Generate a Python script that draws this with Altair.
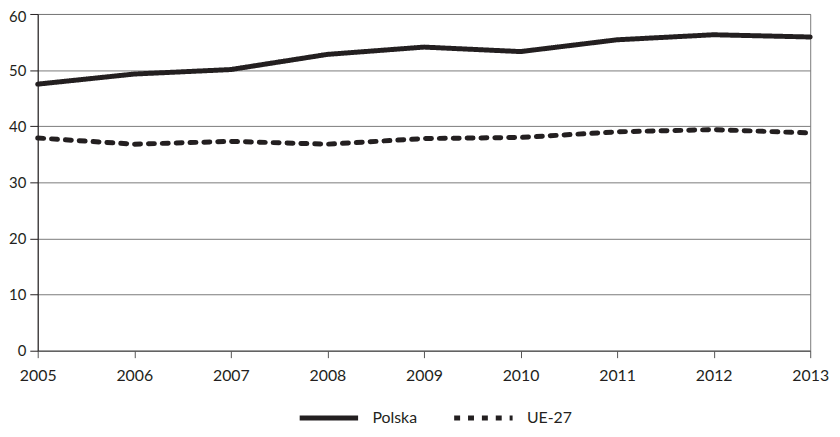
import altair as alt
import pandas as pd

years = [2005, 2006, 2007, 2008, 2009, 2010, 2011, 2012, 2013]
polska = [47.5, 49.3, 50.1, 52.8, 54.1, 53.3, 55.4, 56.3, 55.9]
ue27 = [37.9, 36.8, 37.3, 36.8, 37.8, 38.0, 39.0, 39.4, 38.8]
series = ["Polska", "UE-27"]

rows = []
for y, a, b in zip(years, polska, ue27):
    rows.append({"rok": y, "seria": series[0], "v": a})
    rows.append({"rok": y, "seria": series[1], "v": b})
df = pd.DataFrame(rows)

FONT = "Lato"
INK = "#231f20"
GRID = "#7a7a7a"

chart = alt.Chart(df).mark_line(
    color=INK, strokeWidth=5, strokeCap="round", strokeJoin="round"
).encode(
    x=alt.X("rok:Q", scale=alt.Scale(domain=[2005, 2013], nice=False, zero=False),
            axis=alt.Axis(values=years, format="d", title=None, grid=False,
                          tickSize=7, tickColor="#555555", domainColor="#555555",
                          labelFontSize=16, labelFont=FONT, labelColor=INK,
                          labelPadding=10, labelFlush=False)),
    y=alt.Y("v:Q", scale=alt.Scale(domain=[0, 60], nice=False),
            axis=alt.Axis(values=[0, 10, 20, 30, 40, 50, 60], title=None,
                          grid=True, gridColor=GRID, gridWidth=1,
                          tickSize=8, tickColor=INK, domainColor=INK,
                          labelFontSize=15, labelFont=FONT, labelColor=INK,
                          labelPadding=4,
                          labelOffset={"condition": {"test": "datum.value == 60", "value": 3},
                                       "value": 0})),
    strokeDash=alt.StrokeDash("seria:N",
        scale=alt.Scale(domain=series, range=[[1, 0], [6, 8]]),
        legend=alt.Legend(title=None, orient="none", direction="horizontal",
                          legendX=262, legendY=376,
                          symbolType="stroke", symbolSize=3480,
                          symbolStrokeWidth=5, symbolStrokeColor=INK,
                          labelFontSize=16, labelFont=FONT, labelColor=INK,
                          columnPadding=26, labelOffset=12)),
).properties(
    width=780, height=340,
    autosize=alt.AutoSizeParams(type="none"),
    padding={"left": 30, "top": 4, "right": 22, "bottom": 77},
).configure_view(
    stroke=GRID, strokeWidth=1
)

chart.save("out.html", embed_options={"renderer": "svg", "actions": False})
